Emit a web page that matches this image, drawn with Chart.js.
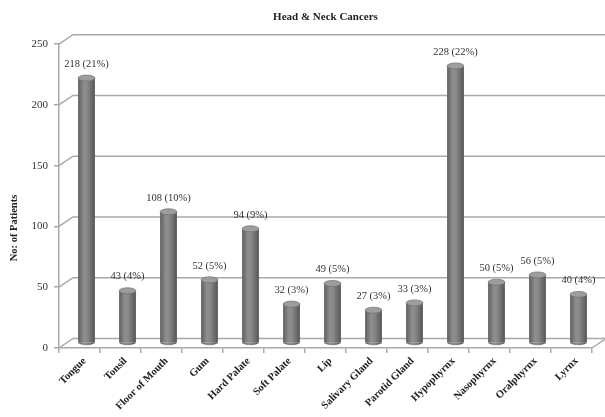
<!DOCTYPE html>
<html><head><meta charset="utf-8">
<script src="https://cdn.jsdelivr.net/npm/chart.js@4/dist/chart.umd.min.js"></script>
<style>html,body{margin:0;padding:0;background:#fff}</style></head>
<body>
<canvas id="c" width="605" height="417"></canvas>
<script>
const categories = ["Tongue","Tonsil","Floor of Mouth","Gum","Hard Palate","Soft Palate","Lip","Salivary Gland","Parotid Gland","Hypophyrnx","Nasophyrnx","Oralphyrnx","Lyrnx"];
const patients = [218,43,108,52,94,32,49,27,33,228,50,56,40];
const percents = [21,4,10,5,9,3,5,3,3,22,5,5,4];
const yTicks = [0,50,100,150,200,250];
const chartTitle = "Head & Neck Cancers";
const yTitle = "No: of Patients";

const FONT = "'Liberation Serif', 'DejaVu Serif', serif";
const DX = 14, DY = -9.5;      // depth of the back wall
const BX = 7, BY = -5;         // bars sit half way in depth
const BAR_PCT = 0.41;
const LINE = '#a9a9a9';

function cylGrad(ctx, cx, w) {
  if (!isFinite(cx) || !isFinite(w) || w <= 0) return '#777';
  const g = ctx.createLinearGradient(cx - w / 2, 0, cx + w / 2, 0);
  g.addColorStop(0, '#5e5e5e');
  g.addColorStop(0.35, '#8f8f8f');
  g.addColorStop(0.55, '#888888');
  g.addColorStop(1, '#555555');
  return g;
}

const frame3d = {
  id: 'frame3d',
  beforeDatasetsDraw(chart) {
    const {ctx, scales: {x, y}, chartArea: a} = chart;
    ctx.save();
    ctx.strokeStyle = LINE; ctx.lineWidth = 1.5;
    yTicks.forEach(v => {
      const py = y.getPixelForValue(v);
      ctx.beginPath();
      ctx.moveTo(a.left, py);
      ctx.lineTo(a.left + DX, py + DY);
      ctx.lineTo(chart.width, py + DY);
      ctx.stroke();
    });
    const p0 = y.getPixelForValue(0);
    ctx.beginPath(); ctx.moveTo(a.right, p0); ctx.lineTo(a.right + DX, p0 + DY); ctx.stroke();
    // y-axis title
    ctx.fillStyle = '#222';
    ctx.font = 'bold 10.5px ' + FONT;
    ctx.textAlign = 'center'; ctx.textBaseline = 'middle';
    ctx.translate(14, 228);
    ctx.rotate(-Math.PI / 2);
    ctx.fillText(yTitle, 0, 0);
    ctx.restore();
    ctx.save();
    ctx.translate(BX, BY);
  },
  afterDatasetsDraw(chart) {
    const {ctx} = chart;
    const meta = chart.getDatasetMeta(0);
    const pts = [];
    meta.data.forEach((bar, i) => {
      const p = bar.getProps(['x', 'y', 'base', 'width'], true);
      const rx = p.width / 2, ry = 3;
      ctx.fillStyle = cylGrad(ctx, p.x, p.width);
      ctx.beginPath(); ctx.ellipse(p.x, p.base, rx, ry, 0, 0, Math.PI); ctx.fill();
      ctx.fillStyle = '#9d9d9d';
      ctx.beginPath(); ctx.ellipse(p.x, p.y, rx, ry, 0, 0, 2 * Math.PI); ctx.fill();
      ctx.strokeStyle = '#6f6f6f'; ctx.lineWidth = 0.7; ctx.stroke();
      pts.push(p);
    });
    ctx.restore();
    ctx.save();
    ctx.fillStyle = '#333';
    ctx.font = '10.5px ' + FONT;
    ctx.textAlign = 'center'; ctx.textBaseline = 'middle';
    pts.forEach((p, i) => {
      ctx.fillText(patients[i] + ' (' + percents[i] + '%)', p.x + BX, p.y + BY - 14);
    });
    ctx.restore();
  }
};

new Chart(document.getElementById('c'), {
  type: 'bar',
  data: {
    labels: categories,
    datasets: [{
      data: patients,
      categoryPercentage: 1,
      barPercentage: BAR_PCT,
      borderWidth: 0,
      clip: false,
      backgroundColor: (c) => {
        const xs = c.chart.scales && c.chart.scales.x;
        if (!xs || c.dataIndex === undefined) return '#777';
        const cx = xs.getPixelForValue(c.dataIndex);
        const w = (xs.right - xs.left) / categories.length * BAR_PCT;
        return cylGrad(c.chart.ctx, cx, w);
      }
    }]
  },
  options: {
    responsive: false,
    animation: false,
    devicePixelRatio: 1,
    layout: {padding: {left: 0, right: 13, top: 0, bottom: 0}},
    plugins: {
      legend: {display: false},
      tooltip: {enabled: false},
      title: {
        display: true, text: chartTitle, fullSize: false,
        color: '#222', font: {family: FONT, size: 11, weight: 'bold'},
        padding: {top: 11, bottom: 20}
      }
    },
    scales: {
      x: {
        grid: {drawOnChartArea: false, drawTicks: true, tickLength: 5, color: LINE, lineWidth: 1.5, offset: true},
        border: {display: true, color: LINE, width: 1.5},
        ticks: {autoSkip: false, minRotation: 45, maxRotation: 45, color: '#222', labelOffset: 5,
                font: {family: FONT, size: 10.5, weight: 'bold'}, padding: 2},
        afterFit: s => { s.height = 69; }
      },
      y: {
        min: 0, max: 250,
        afterBuildTicks: s => { s.ticks = yTicks.map(v => ({value: v})); },
        grid: {drawOnChartArea: false, drawTicks: true, tickLength: 5, color: LINE, lineWidth: 1.5},
        border: {display: true, color: LINE, width: 1.5},
        ticks: {color: '#333', font: {family: FONT, size: 11}, padding: 6},
        afterFit: s => { s.width = 59; }
      }
    }
  },
  plugins: [frame3d]
});
</script>
</body></html>
